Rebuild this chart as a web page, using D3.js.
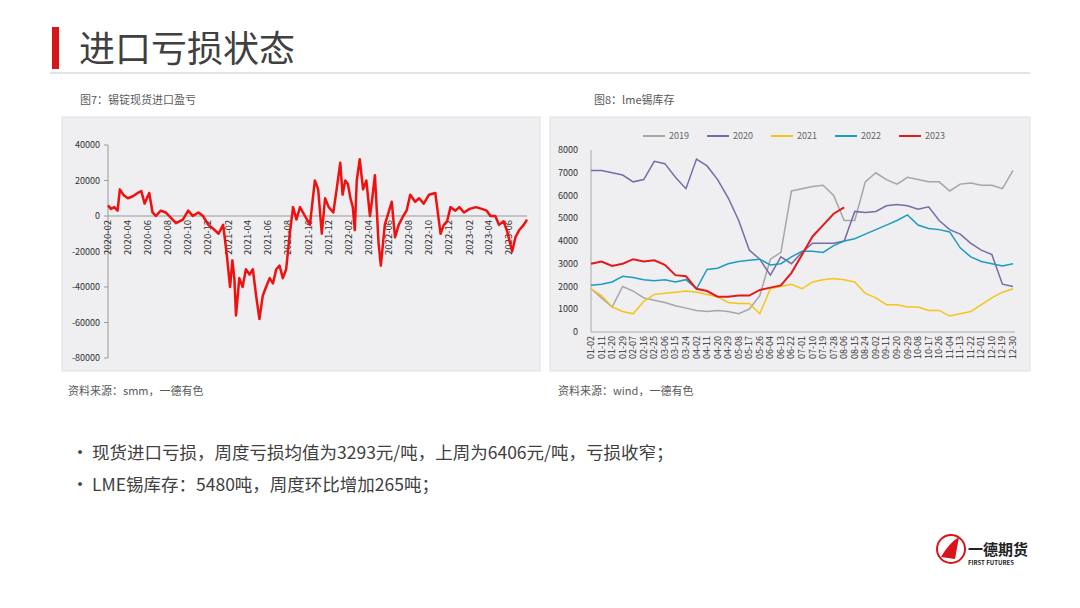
<!DOCTYPE html>
<html lang="zh">
<head>
<meta charset="UTF-8" />
<title>进口亏损状态</title>
<style>
  body { margin: 0; background: #fff; font-family: "Noto Sans CJK SC", "Noto Sans", sans-serif; }
  svg text { font-family: "Noto Sans CJK SC", "Liberation Sans", sans-serif; }
</style>
</head>
<body>
<svg id="page" width="1080" height="608"></svg>
<script src="https://d3js.org/d3.v7.min.js"></script>
<script>
// 图7：锡锭现货进口盈亏 (元/吨)
const lossDates = ["2020-02-01","2020-02-10","2020-02-20","2020-03-01","2020-03-08","2020-03-18","2020-04-01","2020-04-15","2020-05-01","2020-05-12","2020-05-22","2020-06-05","2020-06-15","2020-06-25","2020-07-10","2020-07-25","2020-08-10","2020-08-25","2020-09-15","2020-10-01","2020-10-15","2020-11-01","2020-11-15","2020-12-01","2020-12-15","2021-01-01","2021-01-15","2021-01-25","2021-02-05","2021-02-12","2021-02-18","2021-02-23","2021-03-05","2021-03-15","2021-03-25","2021-04-05","2021-04-15","2021-04-25","2021-05-05","2021-05-15","2021-05-25","2021-06-05","2021-06-15","2021-06-25","2021-07-05","2021-07-15","2021-07-25","2021-08-05","2021-08-15","2021-08-25","2021-09-05","2021-09-20","2021-10-05","2021-10-20","2021-10-30","2021-11-10","2021-11-20","2021-12-01","2021-12-15","2021-12-25","2022-01-05","2022-01-12","2022-01-20","2022-01-28","2022-02-05","2022-02-12","2022-02-18","2022-02-24","2022-03-05","2022-03-15","2022-03-25","2022-04-05","2022-04-12","2022-04-20","2022-05-01","2022-05-08","2022-05-20","2022-06-10","2022-06-20","2022-07-01","2022-07-15","2022-07-25","2022-08-05","2022-08-20","2022-09-01","2022-09-15","2022-10-01","2022-10-20","2022-11-05","2022-11-15","2022-11-25","2022-12-05","2022-12-20","2023-01-01","2023-01-15","2023-02-01","2023-02-20","2023-03-10","2023-03-25","2023-04-05","2023-04-20","2023-05-01","2023-05-15","2023-05-25","2023-06-10","2023-06-20","2023-07-01","2023-07-15","2023-07-25"];
const lossValues = [6000,4000,5000,3000,15000,12000,10000,11000,13000,14000,7000,13000,2000,0,3000,2000,-1000,-4000,-2000,3000,0,2000,0,-5000,-7000,-10000,-5000,-20000,-40000,-25000,-35000,-56000,-35000,-40000,-30000,-33000,-30000,-45000,-58000,-45000,-40000,-35000,-38000,-30000,-28000,-35000,-30000,-10000,5000,-2000,5000,0,-5000,20000,15000,-10000,10000,5000,2000,15000,30000,12000,20000,18000,10000,5000,-8000,20000,32000,15000,20000,0,10000,23000,-15000,-28000,-5000,8000,-12000,-5000,0,3000,12000,8000,10000,7000,12000,13000,-10000,-5000,-3000,5000,3000,5000,2000,4000,5000,4000,3000,0,0,-5000,-3000,-8000,-20000,-12000,-8000,-5000,-2000];
const lossTicks = [40000,20000,0,-20000,-40000,-60000,-80000];

// 图8：lme锡库存 (吨)
const invDates = ["01-02","01-11","01-20","01-29","02-07","02-16","02-25","03-06","03-15","03-24","04-02","04-11","04-20","04-29","05-08","05-17","05-26","06-04","06-13","06-22","07-01","07-10","07-19","07-28","08-06","08-15","08-24","09-02","09-11","09-20","09-29","10-08","10-17","10-26","11-04","11-13","11-22","12-01","12-10","12-19","12-30"];
const inv2019 = [1900,1500,1100,2000,1800,1500,1400,1300,1150,1050,950,900,950,900,800,1000,1600,3200,3500,6200,6300,6400,6450,6000,4900,4900,6600,7000,6700,6500,6800,6700,6600,6600,6200,6500,6550,6450,6450,6300,7100];
const inv2020 = [7100,7100,7000,6900,6600,6700,7500,7400,6800,6300,7600,7300,6700,5900,4900,3600,3200,2500,3300,3000,3500,3900,3900,3900,4000,5300,5250,5300,5550,5600,5550,5400,5500,4900,4500,4300,3900,3600,3400,2100,2000];
const inv2021 = [1900,1600,1100,900,800,1350,1650,1700,1750,1800,1750,1650,1550,1300,1250,1250,800,1900,2000,2100,1900,2200,2300,2350,2300,2200,1700,1500,1200,1200,1100,1100,950,950,700,800,900,1200,1500,1750,1900];
const inv2022 = [2050,2100,2200,2450,2400,2300,2250,2300,2200,2300,1900,2750,2800,3000,3100,3150,3200,2950,3000,3300,3550,3550,3500,3800,4000,4100,4300,4500,4700,4900,5150,4700,4550,4500,4400,3700,3300,3100,3000,2900,3000];
const inv2023 = [3000,3100,2900,3000,3200,3100,3150,2950,2500,2450,1900,1800,1550,1550,1600,1600,1850,1950,2050,2600,3400,4200,4700,5200,5480];
const invSeries = [
  { name: "2019", values: inv2019, color: "#a6a6a6" },
  { name: "2020", values: inv2020, color: "#7a6aa6" },
  { name: "2021", values: inv2021, color: "#f5c518" },
  { name: "2022", values: inv2022, color: "#1b9dc0" },
  { name: "2023", values: inv2023, color: "#e31a1c" }
];
const invTicks = [0,1000,2000,3000,4000,5000,6000,7000,8000];

const svg = d3.select("#page");

// 标题
svg.append("rect").attr("x", 52).attr("y", 27).attr("width", 7).attr("height", 42).attr("fill", "#d7141a");
svg.append("text").attr("x", 79).attr("y", 62).attr("font-size", 36).attr("fill", "#404040").text("进口亏损状态");
svg.append("line").attr("x1", 50).attr("x2", 1030).attr("y1", 73).attr("y2", 73).attr("stroke", "#c8c8c8");

// 面板
svg.append("rect").attr("x", 62).attr("y", 117).attr("width", 478).attr("height", 254).attr("fill", "#efeef0").attr("stroke", "#e0e0e0");
svg.append("rect").attr("x", 550).attr("y", 117).attr("width", 480).attr("height", 254).attr("fill", "#efeef0").attr("stroke", "#e0e0e0");

const small = (x, y, t) => svg.append("text").attr("x", x).attr("y", y).attr("font-size", 11).attr("fill", "#595959").text(t);
small(80, 104, "图7：锡锭现货进口盈亏");
small(594, 104, "图8：lme锡库存");
small(68, 395, "资料来源：smm，一德有色");
small(558, 395, "资料来源：wind，一德有色");

// 左图
const parse = d3.timeParse("%Y-%m-%d");
const xL = d3.scaleTime().domain([parse("2020-02-01"), parse("2023-07-25")]).range([108, 527]);
const yL = d3.scaleLinear().domain([-80000, 40000]).range([358, 145]);
const gL = svg.append("g");
gL.append("line").attr("x1", 108).attr("x2", 108).attr("y1", 145).attr("y2", 358).attr("stroke", "#999");
gL.selectAll("text.yt").data(lossTicks).join("text")
  .attr("x", 100).attr("y", d => yL(d) + 3).attr("text-anchor", "end")
  .attr("font-size", 9).attr("fill", "#333").attr("font-family", "Liberation Sans").text(d => d);
gL.selectAll("line.yt").data(lossTicks).join("line")
  .attr("x1", 104).attr("x2", 108).attr("y1", d => yL(d)).attr("y2", d => yL(d)).attr("stroke", "#999");
gL.append("line").attr("x1", 108).attr("x2", 527).attr("y1", yL(0)).attr("y2", yL(0)).attr("stroke", "#999");
const monthTicks = d3.timeMonth.range(parse("2020-02-01"), parse("2023-07-02"), 2);
gL.selectAll("text.xt").data(monthTicks).join("text")
  .attr("transform", d => `translate(${xL(d) + 3},${yL(0) + 4}) rotate(-90)`)
  .attr("text-anchor", "end").attr("font-size", 9.5).attr("fill", "#333").attr("font-family", "Liberation Sans")
  .text(d3.timeFormat("%Y-%m"));
gL.append("path")
  .datum(lossDates.map((d, i) => [parse(d), lossValues[i]]))
  .attr("fill", "none").attr("stroke", "#f01010").attr("stroke-width", 2.5).attr("stroke-linejoin", "round")
  .attr("d", d3.line().x(d => xL(d[0])).y(d => yL(d[1])));

// 右图
const xR = d3.scalePoint().domain(invDates).range([591, 1013]);
const yR = d3.scaleLinear().domain([0, 8000]).range([332, 150]);
const gR = svg.append("g");
gR.append("line").attr("x1", 591).attr("x2", 591).attr("y1", 150).attr("y2", 332).attr("stroke", "#aaa");
gR.append("line").attr("x1", 591).attr("x2", 1015).attr("y1", 332).attr("y2", 332).attr("stroke", "#aaa");
gR.selectAll("text.yt").data(invTicks).join("text")
  .attr("x", 578).attr("y", d => yR(d) + 3).attr("text-anchor", "end")
  .attr("font-size", 9).attr("fill", "#333").attr("font-family", "Liberation Sans").text(d => d);
gR.selectAll("text.xt").data(invDates).join("text")
  .attr("transform", d => `translate(${xR(d) + 3},${336}) rotate(-90)`)
  .attr("text-anchor", "end").attr("font-size", 9).attr("fill", "#333").attr("font-family", "Liberation Sans").text(d => d);
const lineR = d3.line().x((d, i) => xR(invDates[i])).y(d => yR(d));
gR.selectAll("path.s").data(invSeries).join("path")
  .attr("fill", "none").attr("stroke", d => d.color).attr("stroke-width", d => d.name === "2023" ? 2 : 1.5)
  .attr("d", d => lineR(d.values));
const leg = gR.selectAll("g.leg").data(invSeries).join("g")
  .attr("transform", (d, i) => `translate(${643 + i * 64},136)`);
leg.append("line").attr("x1", 0).attr("x2", 22).attr("stroke", d => d.color).attr("stroke-width", 2);
leg.append("text").attr("x", 26).attr("y", 3).attr("font-size", 9).attr("fill", "#666").attr("font-family", "Liberation Sans").text(d => d.name);

// 要点
const bullets = ["现货进口亏损，周度亏损均值为3293元/吨，上周为6406元/吨，亏损收窄；", "LME锡库存：5480吨，周度环比增加265吨；"];
svg.selectAll("g.b").data(bullets).join("g").each(function (d, i) {
  const g = d3.select(this);
  g.append("text").attr("x", 71).attr("y", 459 + i * 32).attr("font-size", 18).attr("fill", "#404040").text("•");
  g.append("text").attr("x", 92).attr("y", 459 + i * 32).attr("font-size", 17.5).attr("fill", "#404040").text(d);
});

// 标志
const logo = svg.append("g").attr("transform", "translate(951,549)");
logo.append("circle").attr("r", 14).attr("fill", "none").attr("stroke", "#d7141a").attr("stroke-width", 2);
logo.append("path").attr("d", "M-10,8 Q-2,-6 8,-12 L4,10 Z").attr("fill", "#d7141a");
svg.append("text").attr("x", 968).attr("y", 555).attr("font-size", 15).attr("font-weight", "bold").attr("fill", "#222").text("一德期货");
svg.append("text").attr("x", 968).attr("y", 565).attr("font-size", 6).attr("font-weight", "bold").attr("fill", "#222").attr("font-family", "Liberation Sans").text("FIRST FUTURES");
</script>
</body>
</html>
